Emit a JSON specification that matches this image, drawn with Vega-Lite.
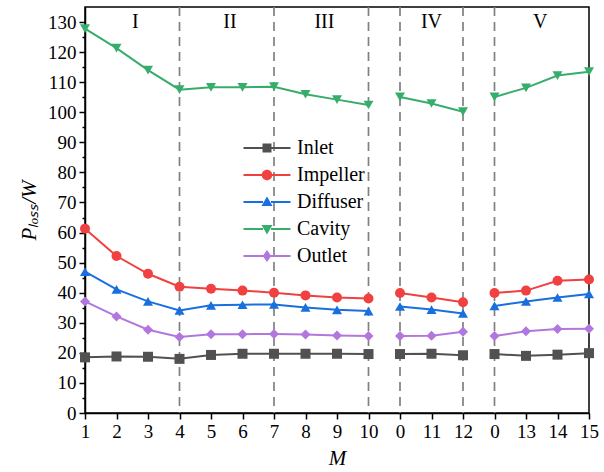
{
  "$schema": "https://vega.github.io/schema/vega-lite/v6.json",
  "width": 504,
  "height": 406,
  "autosize": "none",
  "padding": {"left": 85, "top": 7, "right": 15, "bottom": 59},
  "background": "white",
  "config": {
    "view": {"stroke": "black", "strokeWidth": 1.5},
    "font": "Liberation Serif",
    "axis": {
      "labelFont": "Liberation Serif",
      "titleFont": "Liberation Serif",
      "labelFontSize": 19,
      "titleFontSize": 21,
      "labelColor": "black",
      "titleColor": "black",
      "domainColor": "black",
      "domainWidth": 1.5,
      "tickColor": "black",
      "tickWidth": 1.5,
      "grid": false,
      "labelOverlap": false,
      "titleFontWeight": "normal"
    },
    "legend": {
      "orient": "none", "legendX": 172, "legendY": 131, "title": null,
      "padding": 0, "labelFont": "Liberation Serif", "labelFontSize": 20, "labelColor": "black",
      "symbolSize": 100, "rowPadding": 7, "labelOffset": 20
    }
  },
  "resolve": {"legend": {"color": "independent"}},
  "datasets": {
    "loss": [
      {"i": 0, "s": "Inlet", "seg": 1, "v": 18.5}, {"i": 1, "s": "Inlet", "seg": 1, "v": 18.8}, {"i": 2, "s": "Inlet", "seg": 1, "v": 18.7}, {"i": 3, "s": "Inlet", "seg": 1, "v": 18.0}, {"i": 4, "s": "Inlet", "seg": 1, "v": 19.3}, {"i": 5, "s": "Inlet", "seg": 1, "v": 19.7}, {"i": 6, "s": "Inlet", "seg": 1, "v": 19.7}, {"i": 7, "s": "Inlet", "seg": 1, "v": 19.7}, {"i": 8, "s": "Inlet", "seg": 1, "v": 19.7}, {"i": 9, "s": "Inlet", "seg": 1, "v": 19.6}, {"i": 10, "s": "Inlet", "seg": 2, "v": 19.6}, {"i": 11, "s": "Inlet", "seg": 2, "v": 19.7}, {"i": 12, "s": "Inlet", "seg": 2, "v": 19.2}, {"i": 13, "s": "Inlet", "seg": 3, "v": 19.6}, {"i": 14, "s": "Inlet", "seg": 3, "v": 19.0}, {"i": 15, "s": "Inlet", "seg": 3, "v": 19.4}, {"i": 16, "s": "Inlet", "seg": 3, "v": 19.9},
      {"i": 0, "s": "Impeller", "seg": 1, "v": 61.3}, {"i": 1, "s": "Impeller", "seg": 1, "v": 52.2}, {"i": 2, "s": "Impeller", "seg": 1, "v": 46.3}, {"i": 3, "s": "Impeller", "seg": 1, "v": 42.0}, {"i": 4, "s": "Impeller", "seg": 1, "v": 41.3}, {"i": 5, "s": "Impeller", "seg": 1, "v": 40.7}, {"i": 6, "s": "Impeller", "seg": 1, "v": 40.0}, {"i": 7, "s": "Impeller", "seg": 1, "v": 39.1}, {"i": 8, "s": "Impeller", "seg": 1, "v": 38.4}, {"i": 9, "s": "Impeller", "seg": 1, "v": 38.1}, {"i": 10, "s": "Impeller", "seg": 2, "v": 39.9}, {"i": 11, "s": "Impeller", "seg": 2, "v": 38.4}, {"i": 12, "s": "Impeller", "seg": 2, "v": 36.8}, {"i": 13, "s": "Impeller", "seg": 3, "v": 39.9}, {"i": 14, "s": "Impeller", "seg": 3, "v": 40.7}, {"i": 15, "s": "Impeller", "seg": 3, "v": 44.0}, {"i": 16, "s": "Impeller", "seg": 3, "v": 44.4},
      {"i": 0, "s": "Diffuser", "seg": 1, "v": 47.0}, {"i": 1, "s": "Diffuser", "seg": 1, "v": 41.1}, {"i": 2, "s": "Diffuser", "seg": 1, "v": 37.1}, {"i": 3, "s": "Diffuser", "seg": 1, "v": 34.1}, {"i": 4, "s": "Diffuser", "seg": 1, "v": 35.8}, {"i": 5, "s": "Diffuser", "seg": 1, "v": 36.0}, {"i": 6, "s": "Diffuser", "seg": 1, "v": 36.1}, {"i": 7, "s": "Diffuser", "seg": 1, "v": 35.1}, {"i": 8, "s": "Diffuser", "seg": 1, "v": 34.3}, {"i": 9, "s": "Diffuser", "seg": 1, "v": 33.9}, {"i": 10, "s": "Diffuser", "seg": 2, "v": 35.4}, {"i": 11, "s": "Diffuser", "seg": 2, "v": 34.4}, {"i": 12, "s": "Diffuser", "seg": 2, "v": 33.1}, {"i": 13, "s": "Diffuser", "seg": 3, "v": 35.6}, {"i": 14, "s": "Diffuser", "seg": 3, "v": 37.1}, {"i": 15, "s": "Diffuser", "seg": 3, "v": 38.4}, {"i": 16, "s": "Diffuser", "seg": 3, "v": 39.6},
      {"i": 0, "s": "Cavity", "seg": 1, "v": 127.8}, {"i": 1, "s": "Cavity", "seg": 1, "v": 121.3}, {"i": 2, "s": "Cavity", "seg": 1, "v": 114.0}, {"i": 3, "s": "Cavity", "seg": 1, "v": 107.5}, {"i": 4, "s": "Cavity", "seg": 1, "v": 108.3}, {"i": 5, "s": "Cavity", "seg": 1, "v": 108.3}, {"i": 6, "s": "Cavity", "seg": 1, "v": 108.5}, {"i": 7, "s": "Cavity", "seg": 1, "v": 106.0}, {"i": 8, "s": "Cavity", "seg": 1, "v": 104.2}, {"i": 9, "s": "Cavity", "seg": 1, "v": 102.4}, {"i": 10, "s": "Cavity", "seg": 2, "v": 105.1}, {"i": 11, "s": "Cavity", "seg": 2, "v": 102.9}, {"i": 12, "s": "Cavity", "seg": 2, "v": 100.2}, {"i": 13, "s": "Cavity", "seg": 3, "v": 105.1}, {"i": 14, "s": "Cavity", "seg": 3, "v": 108.1}, {"i": 15, "s": "Cavity", "seg": 3, "v": 112.2}, {"i": 16, "s": "Cavity", "seg": 3, "v": 113.5},
      {"i": 0, "s": "Outlet", "seg": 1, "v": 37.1}, {"i": 1, "s": "Outlet", "seg": 1, "v": 32.1}, {"i": 2, "s": "Outlet", "seg": 1, "v": 27.7}, {"i": 3, "s": "Outlet", "seg": 1, "v": 25.3}, {"i": 4, "s": "Outlet", "seg": 1, "v": 26.2}, {"i": 5, "s": "Outlet", "seg": 1, "v": 26.2}, {"i": 6, "s": "Outlet", "seg": 1, "v": 26.3}, {"i": 7, "s": "Outlet", "seg": 1, "v": 26.1}, {"i": 8, "s": "Outlet", "seg": 1, "v": 25.8}, {"i": 9, "s": "Outlet", "seg": 1, "v": 25.6}, {"i": 10, "s": "Outlet", "seg": 2, "v": 25.6}, {"i": 11, "s": "Outlet", "seg": 2, "v": 25.7}, {"i": 12, "s": "Outlet", "seg": 2, "v": 27.0}, {"i": 13, "s": "Outlet", "seg": 3, "v": 25.6}, {"i": 14, "s": "Outlet", "seg": 3, "v": 27.2}, {"i": 15, "s": "Outlet", "seg": 3, "v": 27.9}, {"i": 16, "s": "Outlet", "seg": 3, "v": 28.0}
    ],
    "dividers": [{"x": 3}, {"x": 6}, {"x": 9}, {"x": 10}, {"x": 12}, {"x": 13}],
    "zones": [{"x": 1.6, "y": 130, "t": "I"}, {"x": 4.6, "y": 130, "t": "II"}, {"x": 7.6, "y": 130, "t": "III"}, {"x": 11, "y": 130, "t": "IV"}, {"x": 14.45, "y": 130, "t": "V"}]
  },
  "layer": [
    {
      "data": {"name": "dividers"},
      "mark": {"type": "rule", "color": "#808080", "strokeWidth": 1.7, "strokeDash": [9, 6]},
      "encoding": {
        "x": {
          "field": "x", "type": "quantitative",
          "scale": {"domain": [0, 16], "nice": false, "zero": false},
          "axis": {
            "title": "M", "titleFontStyle": "italic", "titlePadding": 6,
            "values": [0,1,2,3,4,5,6,7,8,9,10,11,12,13,14,15,16],
            "labelExpr": "['1','2','3','4','5','6','7','8','9','10','0','11','12','0','13','14','15'][datum.value]",
            "tickSize": 6, "labelPadding": 3, "labelFlush": false, "labelOverlap": false
          }
        }
      }
    },
    {
      "data": {"name": "zones"},
      "mark": {"type": "text", "font": "Liberation Serif", "fontSize": 20, "color": "black", "baseline": "middle"},
      "encoding": {
        "x": {
          "field": "x", "type": "quantitative",
          "axis": {
            "title": "M", "titleFontStyle": "italic", "titlePadding": 6,
            "values": [0,1,2,3,4,5,6,7,8,9,10,11,12,13,14,15,16],
            "labelExpr": "['1','2','3','4','5','6','7','8','9','10','0','11','12','0','13','14','15'][datum.value]",
            "tickSize": 6, "labelPadding": 3, "labelFlush": false, "labelOverlap": false
          }
        },
        "y": {
          "field": "y", "type": "quantitative",
          "scale": {"domain": [0, 135], "nice": false},
          "axis": {
            "title": "Pₗₒₛₛ/W", "titleFontStyle": "italic", "titlePadding": 8,
            "values": [0,5,10,15,20,25,30,35,40,45,50,55,60,65,70,75,80,85,90,95,100,105,110,115,120,125,130],
            "labelExpr": "datum.value % 10 === 0 ? datum.label : ''",
            "tickSize": {"condition": {"test": "datum.value % 10 === 0", "value": 6}, "value": 3},
            "labelPadding": 3, "labelOverlap": false
          }
        },
        "text": {"field": "t"}
      }
    },
    {
      "data": {"name": "loss"},
      "mark": {"type": "line", "strokeWidth": 2},
      "encoding": {
        "x": {
          "field": "i", "type": "quantitative",
          "axis": {
            "title": "M", "titleFontStyle": "italic", "titlePadding": 6,
            "values": [0,1,2,3,4,5,6,7,8,9,10,11,12,13,14,15,16],
            "labelExpr": "['1','2','3','4','5','6','7','8','9','10','0','11','12','0','13','14','15'][datum.value]",
            "tickSize": 6, "labelPadding": 3, "labelFlush": false, "labelOverlap": false
          }
        },
        "y": {
          "field": "v", "type": "quantitative",
          "axis": {
            "title": "Pₗₒₛₛ/W", "titleFontStyle": "italic", "titlePadding": 8,
            "values": [0,5,10,15,20,25,30,35,40,45,50,55,60,65,70,75,80,85,90,95,100,105,110,115,120,125,130],
            "labelExpr": "datum.value % 10 === 0 ? datum.label : ''",
            "tickSize": {"condition": {"test": "datum.value % 10 === 0", "value": 6}, "value": 3},
            "labelPadding": 3, "labelOverlap": false
          }
        },
        "color": {
          "field": "s", "type": "nominal",
          "scale": {"domain": ["Inlet", "Impeller", "Diffuser", "Cavity", "Outlet"], "range": ["#515151", "#F14040", "#1A6FDF", "#37AD6B", "#B177DE"]},
          "legend": {
            "encode": {
              "symbols": {
                "update": {
                  "shape": {"signal": "datum.value === 'Inlet' ? 'M-4.7,-0.2H-0.8V0.2H-4.7Z M0.8,-0.2H4.7V0.2H0.8Z M-0.9,-0.9H0.9V0.9H-0.9Z' : datum.value === 'Impeller' ? 'M-4.7,-0.2H-0.9V0.2H-4.7Z M0.9,-0.2H4.7V0.2H0.9Z M-1.05,0A1.05,1.05 0 1,1 1.05,0A1.05,1.05 0 1,1 -1.05,0Z' : datum.value === 'Diffuser' ? 'M-4.7,-0.2H-0.8V0.2H-4.7Z M0.8,-0.2H4.7V0.2H0.8Z M0,-1.1L1.1,0.8H-1.1Z' : datum.value === 'Cavity' ? 'M-4.7,-0.2H-0.8V0.2H-4.7Z M0.8,-0.2H4.7V0.2H0.8Z M0,1.1L1.1,-0.8H-1.1Z' : 'M-4.7,-0.2H-0.6V0.2H-4.7Z M0.6,-0.2H4.7V0.2H0.6Z M0,-1.2L0.85,0L0,1.2L-0.85,0Z'"},
                  "fill": {"signal": "scale('color', datum.value)"},
                  "stroke": {"value": "transparent"},
                  "strokeWidth": {"value": 0},
                  "opacity": {"value": 1}
                }
              }
            }
          }
        },
        "detail": {"field": "seg"}
      }
    },
    {
      "data": {"name": "loss"},
      "mark": {"type": "point", "filled": true, "opacity": 1, "size": 100},
      "encoding": {
        "x": {
          "field": "i", "type": "quantitative",
          "axis": {
            "title": "M", "titleFontStyle": "italic", "titlePadding": 6,
            "values": [0,1,2,3,4,5,6,7,8,9,10,11,12,13,14,15,16],
            "labelExpr": "['1','2','3','4','5','6','7','8','9','10','0','11','12','0','13','14','15'][datum.value]",
            "tickSize": 6, "labelPadding": 3, "labelFlush": false, "labelOverlap": false
          }
        },
        "y": {
          "field": "v", "type": "quantitative",
          "axis": {
            "title": "Pₗₒₛₛ/W", "titleFontStyle": "italic", "titlePadding": 8,
            "values": [0,5,10,15,20,25,30,35,40,45,50,55,60,65,70,75,80,85,90,95,100,105,110,115,120,125,130],
            "labelExpr": "datum.value % 10 === 0 ? datum.label : ''",
            "tickSize": {"condition": {"test": "datum.value % 10 === 0", "value": 6}, "value": 3},
            "labelPadding": 3, "labelOverlap": false
          }
        },
        "color": {"field": "s", "type": "nominal", "legend": null},
        "shape": {
          "field": "s", "type": "nominal",
          "scale": {"domain": ["Inlet", "Impeller", "Diffuser", "Cavity", "Outlet"], "range": ["square", "circle", "triangle-up", "triangle-down", "diamond"]},
          "legend": null
        }
      }
    }
  ]
}
